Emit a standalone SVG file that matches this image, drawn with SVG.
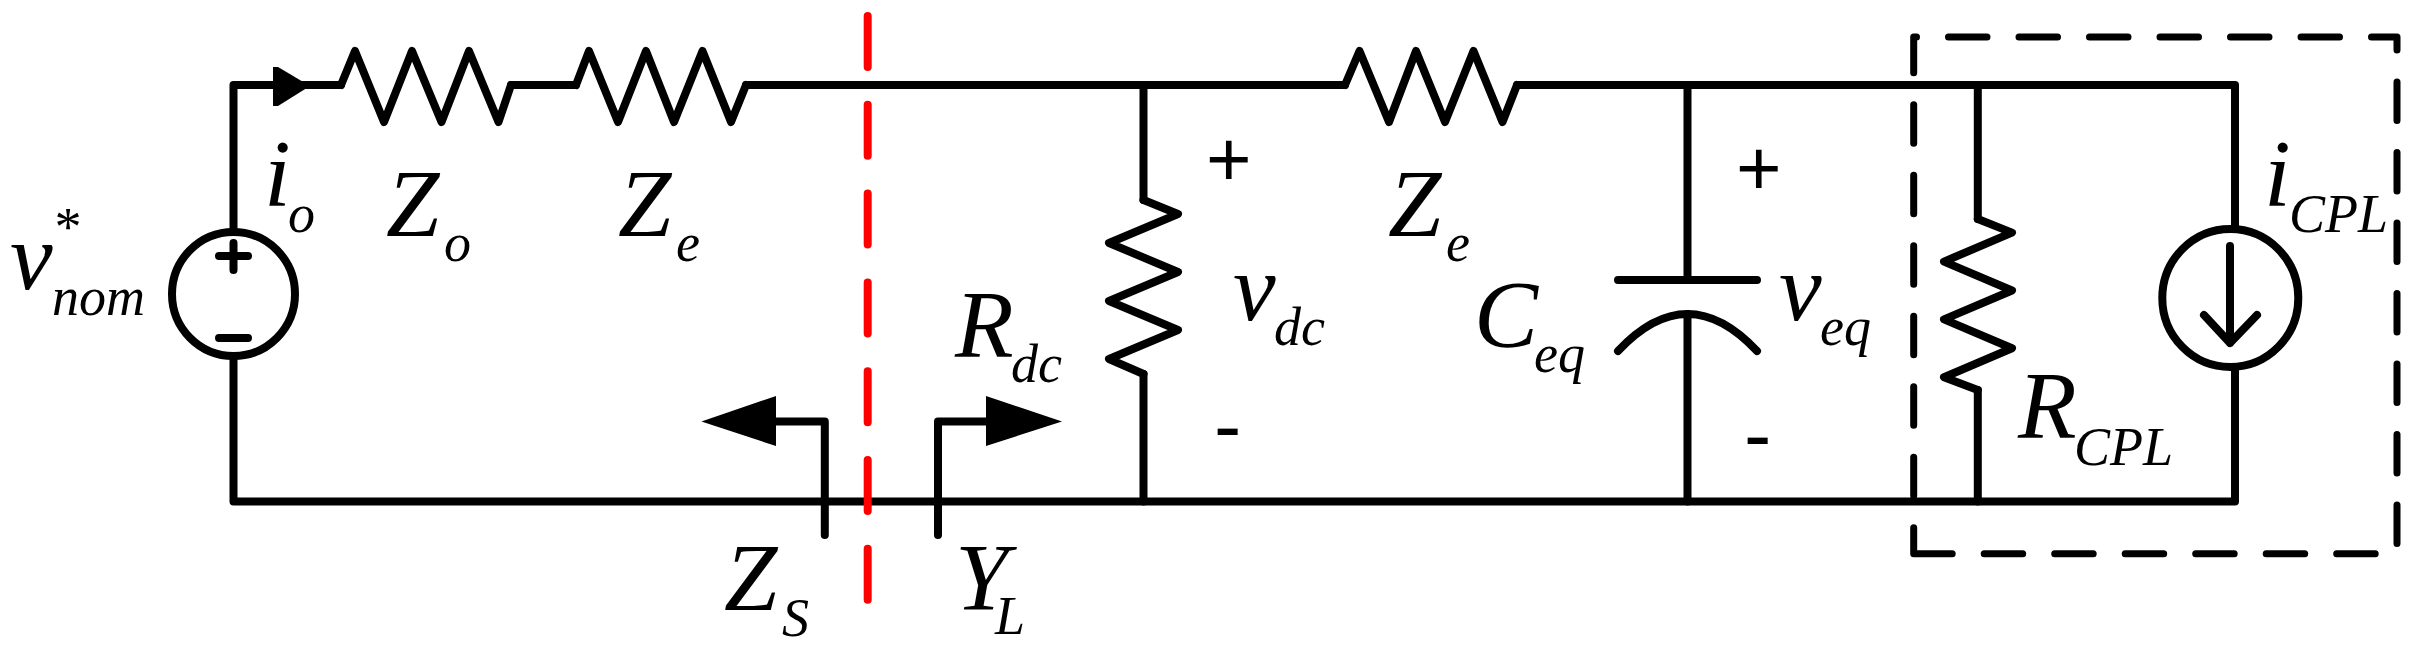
<svg xmlns="http://www.w3.org/2000/svg" width="2419" height="648" viewBox="0 0 2419 648">
<style>
.w{fill:none;stroke:#000;stroke-width:8;stroke-linecap:round;stroke-linejoin:round}
.f{fill:#000;stroke:none}
text{font-family:"Liberation Serif","Times New Roman",serif;font-style:italic;fill:#000;font-size:96px}
.s{font-size:54px}
.p{font-family:"Liberation Sans",Arial,sans-serif;font-style:normal;font-size:78px}
.m{font-family:"Liberation Sans",Arial,sans-serif;font-style:normal;font-size:82px}
</style>
<rect width="2419" height="648" fill="#fff"/>
<g id="connectors">
<path class="w" d="M233.5,232V85H341M511,85H576M746,85H1345M1517,85H2235V228M2235,368V501.5H233.5V360"/>
<path class="w" d="M1143.5,85V200M1143.5,374V501.5M1687.5,85V280M1687.5,314V501.5M1977.8,85V219M1977.8,390V501.5"/>
</g>
<g id="arrow-io"><polygon class="f" points="273,67 278,67 310,86 278,106 273,106"/></g>
<g id="source-v">
<ellipse class="w" cx="233.5" cy="294" rx="61.5" ry="62"/>
<path class="w" d="M219,256H248M233.5,243V270M219,338H248"/>
<text><tspan x="10" y="289">v</tspan><tspan class="s" x="52" y="315">nom</tspan><tspan class="s" x="52" y="245">*</tspan></text>
<text><tspan x="264" y="206">i</tspan><tspan class="s" x="288" y="232">o</tspan></text>
</g>
<g id="Zo">
<path class="w" d="M341,85L355,51L384,122L412,51L441.5,122L469,51L498.5,122L511,85"/>
<text><tspan x="386" y="235.5">Z</tspan><tspan class="s" x="444" y="261">o</tspan></text>
</g>
<g id="Ze1">
<path class="w" d="M576,85L589,51L618,122L646,51L674,122L702.5,51L731,122L746,85"/>
<text><tspan x="618" y="235.5">Z</tspan><tspan class="s" x="676" y="261">e</tspan></text>
</g>
<g id="Ze2">
<path class="w" d="M1345,85L1359.5,51L1389,122L1416,51L1445,122L1473.5,51L1502.5,122L1517,85"/>
<text><tspan x="1388" y="235.5">Z</tspan><tspan class="s" x="1446" y="261">e</tspan></text>
</g>
<g id="divider"><line x1="867.7" y1="16" x2="867.7" y2="600" fill="none" stroke="#f00" stroke-width="8" stroke-linecap="round" stroke-dasharray="51 37.8"/></g>
<g id="ZS">
<polygon class="f" points="701.4,421.5 776,396 776,446"/>
<path class="w" d="M776,421.5H824.8V535"/>
<text><tspan x="724" y="609.5">Z</tspan><tspan class="s" x="782" y="636">S</tspan></text>
</g>
<g id="YL">
<polygon class="f" points="1062,421.5 986,396 986,446"/>
<path class="w" d="M986,421.5H938V535"/>
<text><tspan x="955" y="609.5">Y</tspan><tspan class="s" x="995" y="634">L</tspan></text>
</g>
<g id="Rdc">
<path class="w" d="M1143.5,200L1178,214L1109,243L1178,272L1109,301L1178,330L1109,359L1143.5,374"/>
<text><tspan x="955" y="357.4">R</tspan><tspan class="s" x="1011" y="382">dc</tspan></text>
</g>
<g id="Vdc">
<text class="p" x="1206" y="186">+</text>
<text class="m" x="1214" y="454">-</text>
<text><tspan x="1233" y="320">v</tspan><tspan class="s" x="1274" y="345">dc</tspan></text>
</g>
<g id="Ceq">
<path class="w" d="M1618,280H1757M1618,351Q1687.5,277 1757,351"/>
<text><tspan x="1474" y="347">C</tspan><tspan class="s" x="1534" y="372">eq</tspan></text>
</g>
<g id="Veq">
<text class="p" x="1736" y="195">+</text>
<text class="m" x="1744" y="463">-</text>
<text><tspan x="1779" y="320">v</tspan><tspan class="s" x="1820" y="345">eq</tspan></text>
</g>
<g id="RCPL">
<path class="w" d="M1977.8,219L2012,232.6L1944,261.6L2012,290.5L1944,319.4L2012,348.3L1944,377.3L1977.8,390"/>
<text><tspan x="2018" y="438">R</tspan><tspan class="s" x="2074" y="465">CPL</tspan></text>
</g>
<g id="iCPL">
<ellipse class="w" cx="2230.3" cy="298" rx="68" ry="69"/>
<path class="w" d="M2230,246V343M2204,315L2230,343L2257,315"/>
<text><tspan x="2264" y="206">i</tspan><tspan class="s" x="2289" y="232">CPL</tspan></text>
</g>
<g id="boundary"><path d="M1913.7,553.7H2397V37H1913.7Z" fill="none" stroke="#000" stroke-width="7" stroke-linecap="round" stroke-linejoin="round" stroke-dasharray="38.5 32"/></g>
</svg>
